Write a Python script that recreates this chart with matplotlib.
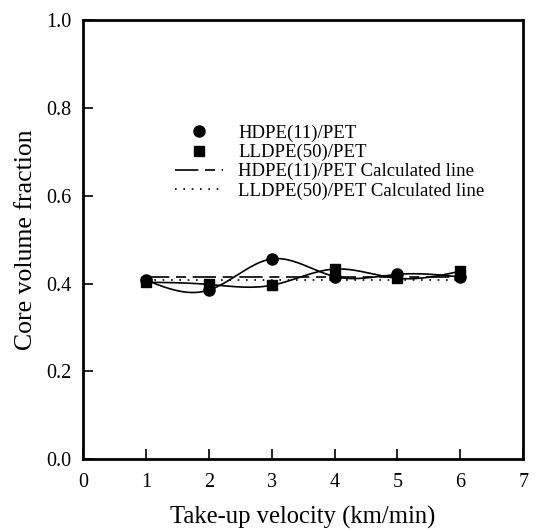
import numpy as np
import matplotlib
matplotlib.use("Agg")
import matplotlib.pyplot as plt

plt.rcParams["font.family"] = ["Liberation Serif", "DejaVu Serif"]

velocidade = [1, 2, 3, 4, 5, 6]
hdpe = [0.408, 0.385, 0.456, 0.416, 0.421, 0.415]
lldpe = [0.403, 0.398, 0.396, 0.433, 0.412, 0.428]
hdpe_calc = 0.416
lldpe_calc = 0.409


def spline_natural(x, y, n=200):
    x = np.asarray(x, float)
    y = np.asarray(y, float)
    m = len(x)
    h = np.diff(x)
    A = np.zeros((m, m))
    b = np.zeros(m)
    A[0, 0] = A[-1, -1] = 1
    for i in range(1, m - 1):
        A[i, i - 1] = h[i - 1]
        A[i, i] = 2 * (h[i - 1] + h[i])
        A[i, i + 1] = h[i]
        b[i] = 3 * ((y[i + 1] - y[i]) / h[i] - (y[i] - y[i - 1]) / h[i - 1])
    c = np.linalg.solve(A, b)
    xs = np.linspace(x[0], x[-1], n)
    ys = np.empty_like(xs)
    for k, xv in enumerate(xs):
        i = min(np.searchsorted(x, xv, side="right") - 1, m - 2)
        dx = xv - x[i]
        bi = (y[i + 1] - y[i]) / h[i] - h[i] * (2 * c[i] + c[i + 1]) / 3
        di = (c[i + 1] - c[i]) / (3 * h[i])
        ys[k] = y[i] + bi * dx + c[i] * dx ** 2 + di * dx ** 3
    return xs, ys


fig = plt.figure(figsize=(5.35, 5.29), dpi=100)
ax = fig.add_axes([0.155, 0.132, 0.823, 0.830])

xs, ys = spline_natural(velocidade, hdpe)
ax.plot(xs, ys, color="black", linewidth=1.2)
xs, ys = spline_natural(velocidade, lldpe)
ax.plot(xs, ys, color="black", linewidth=1.2)

ax.plot(velocidade, hdpe, "o", color="black", markersize=8, label="HDPE(11)/PET")
ax.plot(velocidade, lldpe, "s", color="black", markersize=7, label="LLDPE(50)/PET")
ax.plot([velocidade[0], velocidade[-1]], [hdpe_calc] * 2, color="black",
        linewidth=1.2, dashes=(14, 4, 6, 4), label="HDPE(11)/PET Calculated line")
ax.plot([velocidade[0], velocidade[-1]], [lldpe_calc] * 2, color="black",
        linewidth=1.2, linestyle=(0, (1, 4)), label="LLDPE(50)/PET Calculated line")

ax.set_xlim(0, 7)
ax.set_ylim(0, 1)
ax.set_xticks(range(0, 8))
ax.set_yticks([0, 0.2, 0.4, 0.6, 0.8, 1.0])
ax.set_yticklabels(["0.0", "0.2", "0.4", "0.6", "0.8", "1.0"])
ax.tick_params(direction="in", length=7, width=1.2, labelsize=14.5)
ax.tick_params(axis="x", pad=10)
ax.tick_params(axis="y", pad=8)
for s in ax.spines.values():
    s.set_linewidth(2)

ax.set_xlabel("Take-up velocity (km/min)", fontsize=17.7, labelpad=10)
ax.set_ylabel("Core volume fraction", fontsize=18.5, labelpad=7)

ax.legend(loc="upper left", bbox_to_anchor=(0.17, 0.80), frameon=False,
          fontsize=13.5, handlelength=2.6, handletextpad=0.8, labelspacing=0.1)

plt.savefig("out.png", dpi=100)
